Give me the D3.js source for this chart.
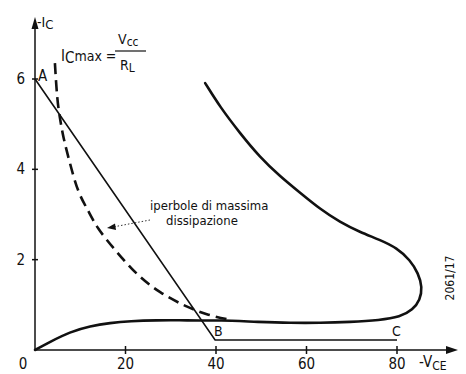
<!DOCTYPE html>
<html>
<head>
<meta charset="utf-8">
<script src="https://cdn.jsdelivr.net/npm/d3@7"></script>
<style>
  html, body { margin: 0; padding: 0; background: #fff; }
  svg { display: block; }
  text { font-family: "Liberation Sans Narrow", "DejaVu Sans Condensed", "Roboto Condensed", sans-serif; fill: #111; }
</style>
</head>
<body>
<div id="chart"></div>
<script>
// -V_CE (volt) and -I_C values
var xTicks = [20, 40, 60, 80];
var yTicks = [2, 4, 6];

// load line A -> B -> C
var loadLine = [[0, 6], [39.8, 0.22], [80, 0.22]];

// dashed hyperbola of max dissipation
var hyperbola = [
  [4.4, 6.35], [4.9, 5.53], [5.5, 5.14], [6.2, 4.72], [7.7, 4.14], [9.5, 3.48],
  [11.7, 3.10], [13.7, 2.70], [17.7, 2.21], [22.5, 1.66], [27.6, 1.26],
  [33.6, 0.95], [38.2, 0.77], [43.5, 0.66]
];

// the dynamic working curve (solid, thick)
var workCurve = [
  [0, 0], [3.3, 0.18], [7.7, 0.40], [12.2, 0.53], [16.6, 0.60], [21.0, 0.64],
  [27.0, 0.66], [32.0, 0.66], [36.5, 0.65], [40.2, 0.66], [49.7, 0.62],
  [56.4, 0.60], [63.0, 0.60], [69.6, 0.62], [76.2, 0.66], [80.7, 0.73],
  [83.5, 0.89], [85.1, 1.11], [85.6, 1.39], [84.7, 1.70], [82.9, 1.99],
  [80.0, 2.26], [76.2, 2.44], [71.8, 2.61], [67.4, 2.83], [63.0, 3.12],
  [58.6, 3.48], [54.1, 3.85], [49.7, 4.27], [45.3, 4.80], [40.9, 5.38], [37.6, 5.91]
];

var W = 466, H = 374;
var x = d3.scaleLinear().domain([0, 80]).range([35, 397]);
var y = d3.scaleLinear().domain([0, 6]).range([350, 79]);

var svg = d3.select("#chart").append("svg").attr("width", W).attr("height", H);

// ---- axes ----
var ax = svg.append("g").attr("stroke", "#111").attr("stroke-width", 1.5);
ax.append("line").attr("x1", x(0)).attr("x2", 452).attr("y1", y(0)).attr("y2", y(0));
ax.append("line").attr("x1", x(0)).attr("x2", x(0)).attr("y1", y(0)).attr("y2", 24);
svg.append("path").attr("d", "M458," + y(0) + " L446," + (y(0) - 4) + " L446," + (y(0) + 4) + "Z").attr("fill", "#111");
svg.append("path").attr("d", "M" + x(0) + ",17 L" + (x(0) - 3.5) + ",29 L" + (x(0) + 3.5) + ",29Z").attr("fill", "#111");

ax.selectAll(".xt").data(xTicks).enter().append("line")
  .attr("x1", function (d) { return x(d); }).attr("x2", function (d) { return x(d); })
  .attr("y1", y(0) - 4).attr("y2", y(0) + 4);
ax.selectAll(".yt").data(yTicks).enter().append("line")
  .attr("x1", x(0) - 3).attr("x2", x(0) + 3)
  .attr("y1", function (d) { return y(d); }).attr("y2", function (d) { return y(d); });

svg.selectAll(".xl").data(xTicks).enter().append("text")
  .attr("x", function (d) { return x(d); }).attr("y", 369)
  .attr("text-anchor", "middle").attr("font-size", 15).text(function (d) { return d; });
svg.append("text").attr("x", 23).attr("y", 369).attr("text-anchor", "middle").attr("font-size", 15).text("0");
svg.selectAll(".yl").data(yTicks).enter().append("text")
  .attr("x", 25).attr("y", function (d) { return y(d) + 5; })
  .attr("text-anchor", "end").attr("font-size", 15).text(function (d) { return d; });

// axis titles
var yt = svg.append("text").attr("x", 37).attr("y", 27).attr("font-size", 14);
yt.append("tspan").text("-I");
yt.append("tspan").attr("dy", 2).attr("font-size", 13).text("C");
var xt = svg.append("text").attr("x", 419).attr("y", 367).attr("font-size", 15);
xt.append("tspan").text("-V");
xt.append("tspan").attr("dy", 3).attr("font-size", 12).text("CE");

// ---- curves ----
var line = d3.line().x(function (d) { return x(d[0]); }).y(function (d) { return y(d[1]); });
var smooth = d3.line().x(function (d) { return x(d[0]); }).y(function (d) { return y(d[1]); })
  .curve(d3.curveBasis);

svg.append("path").attr("d", line(loadLine)).attr("fill", "none")
  .attr("stroke", "#111").attr("stroke-width", 1.6);
svg.append("path").attr("d", smooth(workCurve)).attr("fill", "none")
  .attr("stroke", "#111").attr("stroke-width", 2.6).attr("stroke-linecap", "round");
svg.append("path").attr("d", smooth(hyperbola)).attr("fill", "none")
  .attr("stroke", "#111").attr("stroke-width", 2.6).attr("stroke-dasharray", "11,6");

// ---- point labels ----
svg.append("text").attr("x", 38).attr("y", 81).attr("font-size", 15).text("A");
svg.append("text").attr("x", 214).attr("y", 336).attr("font-size", 14).text("B");
svg.append("text").attr("x", 392).attr("y", 336).attr("font-size", 14).text("C");

// ---- formula ----
var f = svg.append("text").attr("x", 61).attr("y", 61).attr("font-size", 15);
f.append("tspan").text("I");
f.append("tspan").attr("dy", 2).attr("font-size", 15).text("C");
f.append("tspan").attr("dy", -2).attr("font-size", 14).text("max =");
svg.append("line").attr("x1", 115).attr("x2", 146).attr("y1", 51).attr("y2", 51)
  .attr("stroke", "#111").attr("stroke-width", 1.2);
var n = svg.append("text").attr("x", 118).attr("y", 44).attr("font-size", 14);
n.append("tspan").text("V");
n.append("tspan").attr("dy", 2).attr("font-size", 12).text("cc");
var dn = svg.append("text").attr("x", 120).attr("y", 70).attr("font-size", 14);
dn.append("tspan").text("R");
dn.append("tspan").attr("dy", 2).attr("font-size", 12).text("L");

// ---- annotation ----
svg.append("text").attr("x", 150).attr("y", 210).attr("font-size", 13).text("iperbole di massima");
svg.append("text").attr("x", 166).attr("y", 225).attr("font-size", 13).text("dissipazione");
svg.append("line").attr("x1", 150).attr("y1", 220).attr("x2", 113).attr("y2", 227)
  .attr("stroke", "#333").attr("stroke-width", 1).attr("stroke-dasharray", "1.5,2");
svg.append("path").attr("d", "M107,228 L115,223.5 L116,230Z").attr("fill", "#111");

svg.append("text").attr("transform", "translate(454,278) rotate(-90)")
  .attr("text-anchor", "middle").attr("font-size", 12).text("2061/17");
</script>
</body>
</html>
